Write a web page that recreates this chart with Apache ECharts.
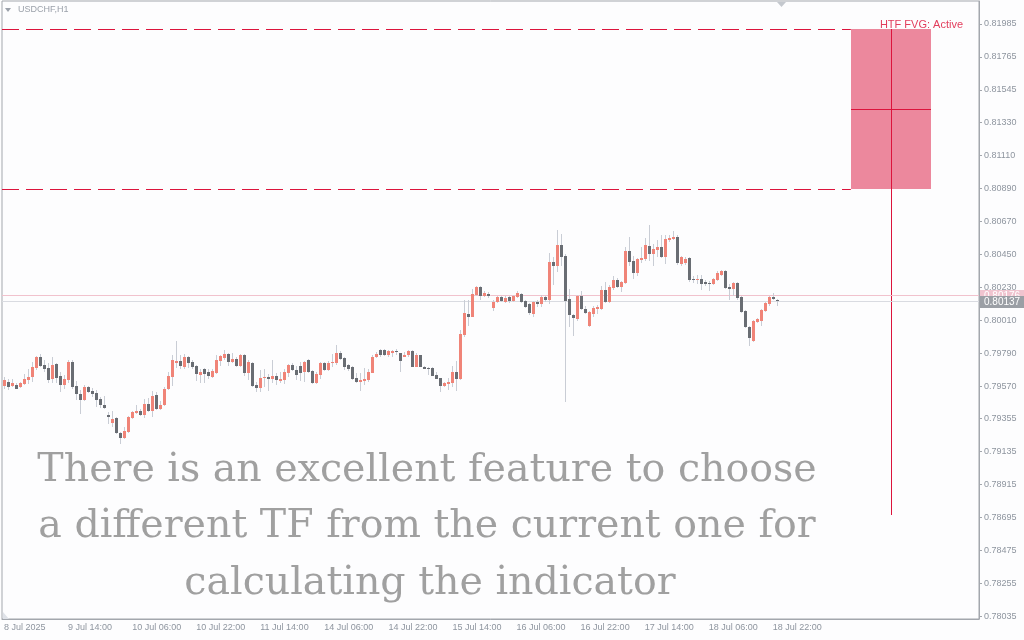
<!DOCTYPE html>
<html>
<head>
<meta charset="utf-8">
<title>USDCHF,H1</title>
<script src="https://cdn.jsdelivr.net/npm/echarts@6/dist/echarts.min.js"></script>
<style>
  html, body { margin: 0; padding: 0; background: #fdfdfe; }
  #main { width: 1024px; height: 640px; }
</style>
</head>
<body>
<div id="main"></div>
<script>
// hourly candles, [open, close, low, high]
var candles = [
  [0.79573,0.79611,0.79551,0.79629],[0.79598,0.79566,0.79544,0.79616],[0.79573,0.79591,0.79566,0.79616],[0.79578,0.79553,0.79551,0.79593],
  [0.79566,0.79591,0.79560,0.79598],[0.79584,0.79618,0.79578,0.79653],[0.79611,0.79633,0.79584,0.79682],[0.79633,0.79698,0.79600,0.79731],
  [0.79693,0.79764,0.79678,0.79768],[0.79764,0.79706,0.79700,0.79784],[0.79711,0.79686,0.79664,0.79744],[0.79691,0.79611,0.79589,0.79722],
  [0.79620,0.79711,0.79589,0.79764],[0.79718,0.79626,0.79589,0.79722],[0.79638,0.79578,0.79533,0.79664],[0.79578,0.79618,0.79551,0.79644],
  [0.79611,0.79731,0.79593,0.79744],[0.79731,0.79566,0.79553,0.79744],[0.79571,0.79518,0.79478,0.79606],[0.79518,0.79478,0.79384,0.79544],
  [0.79478,0.79564,0.79473,0.79578],[0.79564,0.79531,0.79522,0.79571],[0.79540,0.79518,0.79496,0.79556],[0.79526,0.79478,0.79433,0.79544],
  [0.79484,0.79444,0.79426,0.79496],[0.79444,0.79424,0.79419,0.79504],[0.79378,0.79364,0.79315,0.79400],[0.79326,0.79351,0.79300,0.79404],
  [0.79358,0.79258,0.79251,0.79362],[0.79258,0.79224,0.79184,0.79266],[0.79224,0.79273,0.79220,0.79300],[0.79264,0.79364,0.79256,0.79371],
  [0.79358,0.79398,0.79353,0.79404],[0.79391,0.79404,0.79384,0.79444],[0.79404,0.79380,0.79373,0.79418],[0.79378,0.79451,0.79358,0.79484],
  [0.79451,0.79406,0.79398,0.79491],[0.79406,0.79504,0.79366,0.79538],[0.79511,0.79418,0.79411,0.79533],[0.79418,0.79444,0.79411,0.79471],
  [0.79442,0.79551,0.79438,0.79566],[0.79551,0.79638,0.79544,0.79664],[0.79633,0.79744,0.79571,0.79778],[0.79724,0.79738,0.79689,0.79871],
  [0.79738,0.79704,0.79686,0.79778],[0.79698,0.79764,0.79686,0.79784],[0.79764,0.79724,0.79693,0.79771],[0.79731,0.79698,0.79682,0.79744],
  [0.79704,0.79653,0.79604,0.79711],[0.79644,0.79664,0.79591,0.79684],[0.79684,0.79653,0.79589,0.79688],[0.79664,0.79640,0.79618,0.79682],
  [0.79633,0.79671,0.79624,0.79682],[0.79658,0.79744,0.79651,0.79778],[0.79740,0.79771,0.79704,0.79778],[0.79760,0.79784,0.79744,0.79811],
  [0.79784,0.79731,0.79704,0.79789],[0.79733,0.79749,0.79722,0.79793],[0.79749,0.79704,0.79700,0.79762],[0.79704,0.79778,0.79700,0.79784],
  [0.79778,0.79660,0.79638,0.79784],[0.79660,0.79731,0.79611,0.79744],[0.79726,0.79573,0.79566,0.79731],[0.79578,0.79558,0.79529,0.79600],
  [0.79558,0.79624,0.79533,0.79678],[0.79624,0.79633,0.79566,0.79682],[0.79633,0.79618,0.79540,0.79651],[0.79618,0.79638,0.79589,0.79744],
  [0.79638,0.79611,0.79578,0.79656],[0.79604,0.79618,0.79589,0.79664],[0.79611,0.79666,0.79584,0.79682],[0.79660,0.79713,0.79633,0.79720],
  [0.79713,0.79678,0.79669,0.79726],[0.79678,0.79646,0.79611,0.79704],[0.79704,0.79660,0.79606,0.79731],[0.79664,0.79731,0.79600,0.79738],
  [0.79744,0.79664,0.79660,0.79749],[0.79673,0.79593,0.79584,0.79678],[0.79593,0.79653,0.79584,0.79664],[0.79646,0.79726,0.79616,0.79731],
  [0.79726,0.79678,0.79669,0.79731],[0.79678,0.79726,0.79669,0.79735],[0.79726,0.79733,0.79700,0.79784],[0.79726,0.79793,0.79713,0.79844],
  [0.79793,0.79753,0.79744,0.79806],[0.79758,0.79700,0.79678,0.79766],[0.79713,0.79686,0.79669,0.79718],[0.79700,0.79620,0.79611,0.79704],
  [0.79626,0.79598,0.79589,0.79660],[0.79598,0.79611,0.79540,0.79660],[0.79606,0.79620,0.79578,0.79691],[0.79611,0.79666,0.79600,0.79686],
  [0.79660,0.79766,0.79656,0.79780],[0.79766,0.79784,0.79758,0.79798],[0.79811,0.79778,0.79766,0.79820],[0.79808,0.79778,0.79771,0.79818],
  [0.79778,0.79802,0.79766,0.79811],[0.79793,0.79804,0.79766,0.79811],[0.79804,0.79798,0.79780,0.79815],[0.79789,0.79740,0.79666,0.79793],
  [0.79767,0.79780,0.79762,0.79798],[0.79780,0.79804,0.79766,0.79811],[0.79804,0.79700,0.79696,0.79811],[0.79700,0.79780,0.79696,0.79789],
  [0.79776,0.79700,0.79696,0.79780],[0.79700,0.79686,0.79682,0.79704],[0.79691,0.79686,0.79642,0.79695],[0.79693,0.79640,0.79638,0.79700],
  [0.79646,0.79620,0.79616,0.79666],[0.79622,0.79573,0.79531,0.79626],[0.79573,0.79589,0.79566,0.79600],[0.79584,0.79598,0.79544,0.79622],
  [0.79593,0.79664,0.79566,0.79706],[0.79664,0.79620,0.79540,0.79740],[0.79620,0.79918,0.79611,0.79944],[0.79911,0.80058,0.79900,0.80144],
  [0.80051,0.80033,0.79971,0.80144],[0.80033,0.80184,0.80029,0.80217],[0.80178,0.80231,0.80171,0.80237],[0.80231,0.80171,0.80144,0.80237],
  [0.80171,0.80191,0.80164,0.80204],[0.80184,0.80171,0.80157,0.80197],[0.80091,0.80131,0.80073,0.80144],[0.80131,0.80164,0.80122,0.80171],
  [0.80164,0.80137,0.80131,0.80171],[0.80131,0.80157,0.80126,0.80171],[0.80164,0.80137,0.80126,0.80171],[0.80137,0.80171,0.80131,0.80180],
  [0.80164,0.80191,0.80157,0.80204],[0.80184,0.80131,0.80122,0.80191],[0.80137,0.80097,0.80091,0.80144],[0.80117,0.80058,0.80047,0.80124],
  [0.80051,0.80131,0.80029,0.80137],[0.80131,0.80117,0.80099,0.80144],[0.80117,0.80164,0.80097,0.80177],[0.80164,0.80144,0.80131,0.80171],
  [0.80144,0.80397,0.80117,0.80455],[0.80397,0.80372,0.80244,0.80433],[0.80372,0.80511,0.80331,0.80611],[0.80511,0.80431,0.80371,0.80584],
  [0.80438,0.80139,0.79465,0.80451],[0.80151,0.80046,0.79966,0.80217],[0.80044,0.80026,0.79904,0.80051],[0.80017,0.80171,0.80006,0.80174],
  [0.80171,0.80084,0.80077,0.80204],[0.80084,0.80058,0.80051,0.80104],[0.79971,0.80064,0.79966,0.80071],[0.80051,0.80091,0.80033,0.80104],
  [0.80084,0.80097,0.80051,0.80111],[0.80084,0.80211,0.80077,0.80237],[0.80211,0.80131,0.80122,0.80264],[0.80131,0.80231,0.80126,0.80244],
  [0.80224,0.80277,0.80211,0.80304],[0.80277,0.80231,0.80224,0.80291],[0.80231,0.80264,0.80197,0.80271],[0.80257,0.80471,0.80251,0.80497],
  [0.80471,0.80397,0.80371,0.80564],[0.80404,0.80324,0.80284,0.80437],[0.80324,0.80417,0.80304,0.80424],[0.80411,0.80424,0.80389,0.80499],
  [0.80417,0.80511,0.80406,0.80557],[0.80504,0.80451,0.80406,0.80644],[0.80451,0.80484,0.80371,0.80517],[0.80477,0.80497,0.80431,0.80544],
  [0.80497,0.80431,0.80424,0.80577],[0.80431,0.80551,0.80386,0.80577],[0.80544,0.80557,0.80532,0.80577],[0.80551,0.80566,0.80544,0.80604],
  [0.80564,0.80391,0.80377,0.80577],[0.80386,0.80431,0.80371,0.80437],[0.80391,0.80417,0.80377,0.80431],[0.80424,0.80277,0.80264,0.80431],
  [0.80284,0.80277,0.80255,0.80304],[0.80277,0.80284,0.80251,0.80311],[0.80284,0.80253,0.80211,0.80311],[0.80264,0.80251,0.80237,0.80277],
  [0.80257,0.80251,0.80204,0.80271],[0.80251,0.80284,0.80244,0.80291],[0.80277,0.80324,0.80271,0.80339],[0.80311,0.80337,0.80304,0.80344],
  [0.80337,0.80224,0.80217,0.80344],[0.80231,0.80217,0.80142,0.80251],[0.80217,0.80257,0.80171,0.80264],[0.80257,0.80157,0.80144,0.80264],
  [0.80164,0.80064,0.80057,0.80171],[0.80071,0.79964,0.79957,0.80077],[0.79964,0.79891,0.79838,0.79971],[0.79871,0.80004,0.79864,0.80011],
  [0.79997,0.80017,0.79988,0.80024],[0.80004,0.80077,0.79971,0.80084],[0.80071,0.80124,0.80064,0.80131],[0.80117,0.80164,0.80104,0.80171],
  [0.80164,0.80151,0.80144,0.80191],[0.80144,0.80137,0.80104,0.80151]
];

// one label every 16 bars
var xTickLabels = ['8 Jul 2025', '9 Jul 14:00', '10 Jul 06:00', '10 Jul 22:00', '11 Jul 14:00', '14 Jul 06:00',
  '14 Jul 22:00', '15 Jul 14:00', '16 Jul 06:00', '16 Jul 22:00', '17 Jul 14:00', '18 Jul 06:00', '18 Jul 22:00'];
var labelStep = 16;
var slotCount = 244; // bars + empty shift area on the right

var yTicks = [0.78035, 0.78255, 0.78475, 0.78695, 0.78915, 0.79135, 0.79355, 0.79570, 0.79790, 0.80010,
  0.80230, 0.80450, 0.80670, 0.80890, 0.81110, 0.81330, 0.81545, 0.81765, 0.81985];
var yMin = 0.78017, yMax = 0.82137;

// higher timeframe FVG candle
var fvgStart = 212, fvgEnd = 231, fvgWickIdx = 222, fvgDashEnd = 211;
var fvgTop = 0.81951, fvgBottom = 0.80885, fvgMid = 0.81415, fvgLow = 0.78709;

// ask / bid lines
var priceLevels = [0.80176, 0.80137];
var priceLineColors = ['#f1c2cd', '#d9dbe1'];
var priceTagColors = ['#f0c4cf', '#9b9fa5'];

var overlayLines = ['There is an excellent feature to choose', 'a different TF from the current one for', 'calculating the indicator'];

var bullColor = '#f08478', bearColor = '#696d73', wickColor = '#c9cdd5';
var crimson = '#dc143c';

var categories = [];
for (var i = 0; i < slotCount; i++) categories.push(String(i));

function labelAt(index) {
  return index % labelStep === 0 && index / labelStep < xTickLabels.length;
}

var candleData = candles.map(function (d, i) { return [i, d[0], d[1], d[2], d[3]]; });

function renderCandle(params, api) {
  var idx = api.value(0);
  var o = api.value(1), c = api.value(2), l = api.value(3), h = api.value(4);
  var x = Math.round(api.coord([idx, o])[0]);
  var yO = api.coord([idx, o])[1], yC = api.coord([idx, c])[1];
  var yL = Math.round(api.coord([idx, l])[1]), yH = Math.round(api.coord([idx, h])[1]);
  var top = Math.round(Math.min(yO, yC)), bot = Math.round(Math.max(yO, yC));
  if (bot - top < 1) bot = top + 1;
  return {
    type: 'group',
    children: [
      { type: 'rect', shape: { x: x, y: yH, width: 1, height: Math.max(1, yL - yH) }, style: { fill: wickColor } },
      { type: 'rect', shape: { x: x - 1, y: top, width: 3, height: bot - top }, style: { fill: c >= o ? bullColor : bearColor } }
    ]
  };
}

function renderFvg(params, api) {
  var slot = api.size([1, 0])[0];
  var x0 = api.coord([api.value(0), api.value(3)])[0] - slot / 2;
  var x1 = api.coord([api.value(1), api.value(3)])[0] + slot / 2;
  var yTop = Math.round(api.coord([api.value(0), api.value(3)])[1]);
  var yBot = Math.round(api.coord([api.value(0), api.value(2)])[1]);
  var yMid = Math.round(api.coord([api.value(0), api.value(4)])[1]) + 0.5;
  var xw = Math.round(api.coord([api.value(5), api.value(3)])[0]) - 1.5;
  var yLow = Math.round(api.coord([api.value(5), api.value(6)])[1]);
  var xd0 = api.coord([0, api.value(3)])[0] - slot / 2;
  var xd1 = api.coord([api.value(7), api.value(3)])[0] + slot / 2;
  var dash = { stroke: crimson, lineWidth: 1, lineDash: [17, 7] };
  return {
    type: 'group',
    children: [
      { type: 'line', shape: { x1: xd0, y1: yTop + 0.5, x2: xd1, y2: yTop + 0.5 }, style: dash },
      { type: 'line', shape: { x1: xd0, y1: yBot + 0.5, x2: xd1, y2: yBot + 0.5 }, style: dash },
      { type: 'rect', shape: { x: Math.round(x0), y: yTop, width: Math.round(x1 - x0), height: yBot - yTop }, style: { fill: 'rgba(220,20,60,0.5)' } },
      { type: 'line', shape: { x1: Math.round(x0), y1: yMid, x2: Math.round(x1), y2: yMid }, style: { stroke: crimson, lineWidth: 1 } },
      { type: 'line', shape: { x1: xw, y1: yTop, x2: xw, y2: yLow }, style: { stroke: crimson, lineWidth: 1 } }
    ]
  };
}

// horizontal price line plus its tag on the price scale
function renderPriceLine(params, api) {
  var cs = params.coordSys;
  var k = params.dataIndex;
  var price = api.value(1);
  var y = Math.round(api.coord([0, price])[1]) + 0.5;
  var right = cs.x + cs.width;
  return {
    type: 'group',
    children: [
      { type: 'line', shape: { x1: cs.x, y1: y, x2: right, y2: y }, style: { stroke: priceLineColors[k], lineWidth: 1 } },
      { type: 'rect', shape: { x: right + 1, y: Math.round(y) - 6, width: 44, height: 12 }, style: { fill: priceTagColors[k] } },
      { type: 'text', x: right + 5, y: Math.round(y), style: { text: price.toFixed(5), fill: '#ffffff', font: '10px "Liberation Sans"', verticalAlign: 'middle' } }
    ]
  };
}

var chart = echarts.init(document.getElementById('main'));

var axisGray = '#a3a7ad';
var labelGray = '#8e959f';
var overlayFont = '39.5px "DejaVu Serif"';

var option = {
  backgroundColor: '#fdfdfe',
  animation: false,
  grid: { left: 2, top: 1, right: 45, bottom: 21, show: true, borderColor: axisGray, borderWidth: 1 },
  xAxis: {
    type: 'category',
    data: categories,
    boundaryGap: true,
    axisLine: { lineStyle: { color: axisGray } },
    axisTick: { interval: labelAt, length: 4, lineStyle: { color: axisGray } },
    axisLabel: {
      interval: labelAt,
      formatter: function (v, index) { return xTickLabels[index / labelStep] || ''; },
      align: 'left', margin: 4, color: labelGray,
      fontFamily: 'Liberation Sans', fontSize: 9
    },
    splitLine: { show: false }
  },
  yAxis: {
    type: 'value',
    position: 'right',
    min: yMin,
    max: yMax,
    axisLine: { show: true, lineStyle: { color: axisGray } },
    axisTick: { show: true, customValues: yTicks, length: 3, lineStyle: { color: axisGray } },
    axisLabel: {
      customValues: yTicks,
      formatter: function (v) { return v.toFixed(5); },
      margin: 5, color: labelGray,
      fontFamily: 'Liberation Sans', fontSize: 9
    },
    splitLine: { show: false }
  },
  graphic: [
    { type: 'polygon', shape: { points: [[5, 8], [11, 8], [8, 12]] }, style: { fill: '#9ba1aa' } },
    { type: 'text', x: 18, y: 10, style: { text: 'USDCHF,H1', fill: '#9ba1aa', font: '9px "Liberation Sans"', verticalAlign: 'middle' } },
    { type: 'polygon', shape: { points: [[777, 2], [786, 2], [781.5, 7]] }, style: { fill: '#c4c8ce' } },
    { type: 'polygon', shape: { points: [[3, 612], [3, 619], [9, 619]] }, style: { fill: '#dfe2e8' } },
    { type: 'text', x: 963, y: 25, z: 10, style: { text: 'HTF FVG: Active', fill: '#e23d5c', font: '11px "Liberation Sans"', align: 'right', verticalAlign: 'middle' } },
    { type: 'text', x: 427, y: 471, z: 10, style: { text: overlayLines[0], fill: '#a0a0a0', font: overlayFont, align: 'center', verticalAlign: 'middle' } },
    { type: 'text', x: 427, y: 527, z: 10, style: { text: overlayLines[1], fill: '#a0a0a0', font: overlayFont, align: 'center', verticalAlign: 'middle' } },
    { type: 'text', x: 430, y: 584, z: 10, style: { text: overlayLines[2], fill: '#a0a0a0', font: overlayFont, align: 'center', verticalAlign: 'middle' } }
  ],
  series: [
    {
      name: 'FVG',
      type: 'custom',
      renderItem: renderFvg,
      data: [[fvgStart, fvgEnd, fvgBottom, fvgTop, fvgMid, fvgWickIdx, fvgLow, fvgDashEnd]],
      encode: { x: [0, 1, 5, 7], y: [2, 3, 4, 6] },
      silent: true,
      z: 1
    },
    {
      name: 'Price',
      type: 'custom',
      renderItem: renderPriceLine,
      data: priceLevels.map(function (p) { return [0, p]; }),
      encode: { x: 0, y: 1 },
      silent: true,
      clip: false,
      z: 1
    },
    {
      name: 'USDCHF',
      type: 'custom',
      renderItem: renderCandle,
      data: candleData,
      encode: { x: 0, y: [1, 2, 3, 4] },
      z: 2
    }
  ]
};

chart.setOption(option);
</script>
</body>
</html>
